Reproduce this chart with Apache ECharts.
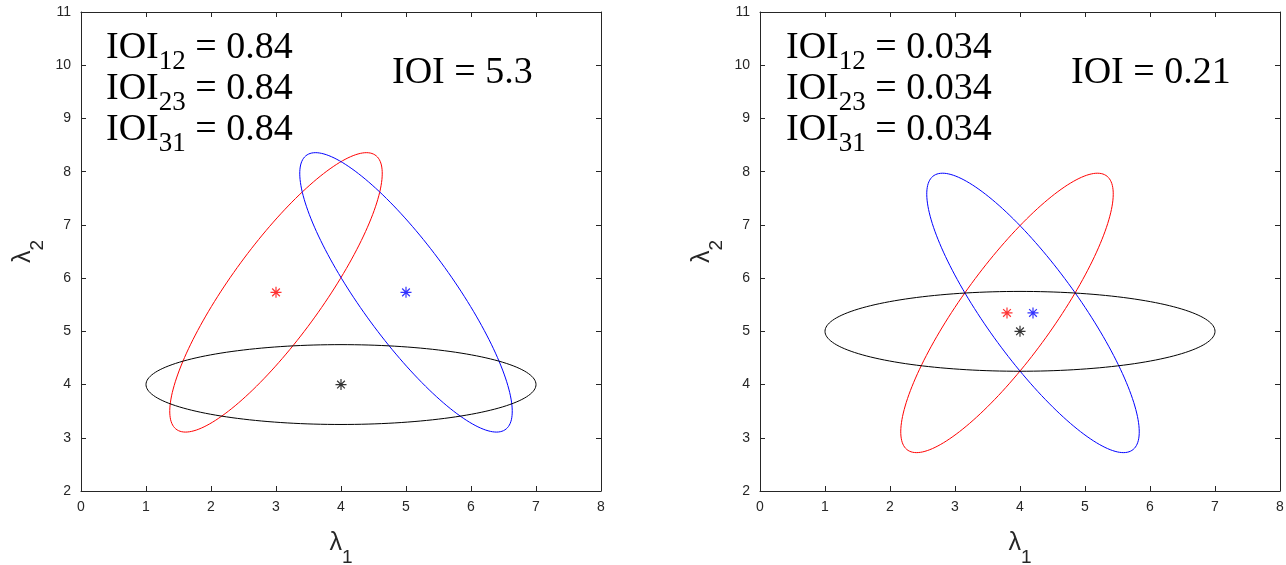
<!DOCTYPE html>
<html>
<head>
<meta charset="utf-8">
<script src="https://cdn.jsdelivr.net/npm/echarts@6/dist/echarts.min.js"></script>
<style>
  html, body { margin: 0; padding: 0; background: #fff; }
  #chart { width: 1286px; height: 565px; }
</style>
</head>
<body>
<div id="chart"></div>
<script>
// ellipses: [cx, cy, semi-major, semi-minor, angle in degrees]
const leftEllipses = [
  [3, 5.732, 3, 0.75, 60],
  [5, 5.732, 3, 0.75, 120],
  [4, 4, 3, 0.75, 0]
]
const rightEllipses = [
  [3.8, 5.346, 3, 0.75, 60],
  [4.2, 5.346, 3, 0.75, 120],
  [4, 5, 3, 0.75, 0]
]
// centres (the * markers)
const leftCentres = [[3, 5.732], [5, 5.732], [4, 4]]
const rightCentres = [[3.8, 5.346], [4.2, 5.346], [4, 5]]
const colors = ['#ff0000', '#0000ff', '#000000']

const pairNames = ['12', '23', '31']
const leftPairValues = ['0.84', '0.84', '0.84']
const rightPairValues = ['0.034', '0.034', '0.034']
const totalValues = ['5.3', '0.21']

const axisColor = '#262626'
const star = 'path://M5,0L5,10M0,5L10,5M1.5,1.5L8.5,8.5M1.5,8.5L8.5,1.5'

function ellipseRender (params, api) {
  const cx = api.value(0), cy = api.value(1)
  const a = api.value(2), b = api.value(3)
  const t = api.value(4) * Math.PI / 180
  const pts = []
  for (let i = 0; i <= 180; i++) {
    const th = i / 180 * Math.PI * 2
    const x = cx + a * Math.cos(th) * Math.cos(t) - b * Math.sin(th) * Math.sin(t)
    const y = cy + a * Math.cos(th) * Math.sin(t) + b * Math.sin(th) * Math.cos(t)
    pts.push(api.coord([x, y]))
  }
  return {
    type: 'polyline',
    shape: { points: pts },
    style: { stroke: colors[params.dataIndex], fill: null, lineWidth: 1 }
  }
}

const grids = [
  { left: 81, top: 12, width: 520, height: 479, outerBoundsMode: 'none', containLabel: false },
  { left: 760, top: 12, width: 520, height: 479, outerBoundsMode: 'none', containLabel: false }
]

const nameRich = {
  l: { fontSize: 25, fontFamily: 'Liberation Sans', color: axisColor, lineHeight: 28 },
  s: { fontSize: 19, fontFamily: 'Liberation Sans', color: axisColor, lineHeight: 19, verticalAlign: 'bottom', padding: [0, 0, -10, 0] }
}

function xAx (g, top) {
  return {
    gridIndex: g, type: 'value', min: 0, max: 8, interval: 1,
    position: top ? 'top' : 'bottom',
    axisLine: { show: true, onZero: false, lineStyle: { color: axisColor, width: 1 } },
    axisTick: { show: true, inside: true, length: 5, lineStyle: { color: axisColor } },
    axisLabel: { show: !top, color: axisColor, fontSize: 14, fontFamily: 'Liberation Sans', margin: 9 },
    splitLine: { show: false },
    name: top ? '' : '{l|λ}{s|1}',
    nameLocation: 'middle', nameGap: 38,
    nameTextStyle: { rich: nameRich }
  }
}
function yAx (g, right) {
  return {
    gridIndex: g, type: 'value', min: 2, max: 11, interval: 1,
    position: right ? 'right' : 'left',
    axisLine: { show: true, onZero: false, lineStyle: { color: axisColor, width: 1 } },
    axisTick: { show: true, inside: true, length: 5, lineStyle: { color: axisColor } },
    axisLabel: { show: !right, color: axisColor, fontSize: 14, fontFamily: 'Liberation Sans', margin: 10 },
    splitLine: { show: false },
    name: right ? '' : '{l|λ}{s|2}',
    nameLocation: 'middle', nameGap: 44, nameRotate: 90,
    nameTextStyle: { rich: nameRich }
  }
}

const serif = 'Liberation Serif'
const rich = {
  a: { fontFamily: serif, fontSize: 38, lineHeight: 42, color: '#000' },
  s: { fontFamily: serif, fontSize: 27, lineHeight: 27, color: '#000', verticalAlign: 'bottom', padding: [0, 0, -6, 0] }
}
function pairText (left, top, name, val) {
  return { type: 'text', left: left, top: top, style: { text: '{a|IOI}{s|' + name + '}{a| = ' + val + '}', rich: rich } }
}
const graphics = []
pairNames.forEach(function (n, i) {
  graphics.push(pairText(106, 29 + i * 41, n, leftPairValues[i]))
  graphics.push(pairText(786, 29 + i * 41, n, rightPairValues[i]))
})
graphics.push({ type: 'text', left: 392, top: 54, style: { text: '{a|IOI = ' + totalValues[0] + '}', rich: rich } })
graphics.push({ type: 'text', left: 1071, top: 54, style: { text: '{a|IOI = ' + totalValues[1] + '}', rich: rich } })

const chart = echarts.init(document.getElementById('chart'))
chart.setOption({
  animation: false,
  grid: grids,
  xAxis: [xAx(0, false), xAx(0, true), xAx(1, false), xAx(1, true)],
  yAxis: [yAx(0, false), yAx(0, true), yAx(1, false), yAx(1, true)],
  graphic: graphics,
  series: [
    { type: 'custom', xAxisIndex: 0, yAxisIndex: 0, renderItem: ellipseRender, data: leftEllipses, silent: true },
    { type: 'custom', xAxisIndex: 2, yAxisIndex: 2, renderItem: ellipseRender, data: rightEllipses, silent: true },
    {
      type: 'scatter', xAxisIndex: 0, yAxisIndex: 0, symbol: star, symbolSize: 11,
      data: leftCentres.map(function (p, i) { return { value: p, itemStyle: { borderColor: colors[i] } } }),
      itemStyle: { color: 'transparent', borderWidth: 1.2 }
    },
    {
      type: 'scatter', xAxisIndex: 2, yAxisIndex: 2, symbol: star, symbolSize: 11,
      data: rightCentres.map(function (p, i) { return { value: p, itemStyle: { borderColor: colors[i] } } }),
      itemStyle: { color: 'transparent', borderWidth: 1.2 }
    }
  ]
})
</script>
</body>
</html>
